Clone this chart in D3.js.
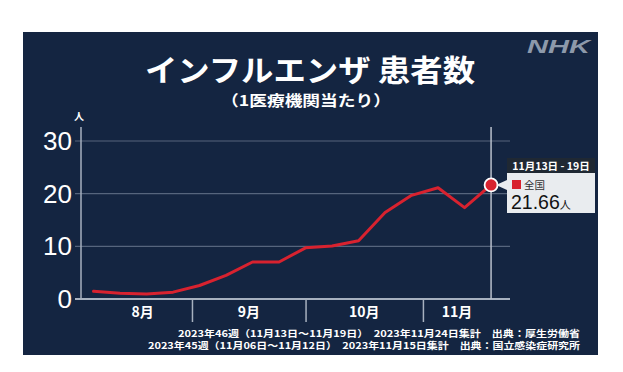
<!DOCTYPE html>
<html>
<head>
<meta charset="utf-8">
<script src="https://cdn.jsdelivr.net/npm/d3@7"></script>
<style>
  body { margin: 0; background: #fff; }
  text { font-family: "Liberation Sans", "Noto Sans CJK JP", sans-serif; }
  .jp { font-family: "Noto Sans CJK JP", "Liberation Sans", sans-serif; }
</style>
</head>
<body>
<div id="chart"></div>
<script>
// weekly values (per medical institution), week ending dates
const weekEnds = ["2023-08-06", "2023-08-13", "2023-08-20", "2023-08-27", "2023-09-03", "2023-09-10",
  "2023-09-17", "2023-09-24", "2023-10-01", "2023-10-08", "2023-10-15", "2023-10-22",
  "2023-10-29", "2023-11-05", "2023-11-12", "2023-11-19"];
const values = [1.45, 1.1, 0.95, 1.3, 2.56, 4.48, 7.03, 7.03, 9.71, 10.06, 11.07, 16.41, 19.68, 21.13, 17.35, 21.66];
const yTicks = [0, 10, 20, 30];
const monthStarts = ["2023-08-01", "2023-09-01", "2023-10-01", "2023-11-01", "2023-12-01"];
const monthLabels = ["8月", "9月", "10月", "11月"];
const footLines = [
  "2023年46週（11月13日～11月19日）　2023年11月24日集計　出典：厚生労働省",
  "2023年45週（11月06日～11月12日）　2023年11月15日集計　出典：国立感染症研究所"
];

const parse = d3.timeParse("%Y-%m-%d");
const data = weekEnds.map((d, i) => ({ date: parse(d), value: values[i] }));
const months = monthStarts.map(parse);

const width = 623, height = 372;
const svg = d3.select("#chart").append("svg")
  .attr("width", width)
  .attr("height", height);

// panel
svg.append("rect")
  .attr("x", 23).attr("y", 32)
  .attr("width", 575).attr("height", 323)
  .attr("fill", "#142541");

const x = d3.scaleTime()
  .domain([parse("2023-08-01"), parse("2023-11-24")])
  .range([74.6, 510]);

const y = d3.scaleLinear()
  .domain([0, 30])
  .range([299, 141]);

// title
svg.append("text")
  .attr("class", "jp")
  .attr("x", 145).attr("y", 81)
  .attr("textLength", 330).attr("lengthAdjust", "spacingAndGlyphs")
  .attr("fill", "#fff")
  .style("font-size", "30px").style("font-weight", "bold")
  .text("インフルエンザ 患者数");

svg.append("text")
  .attr("class", "jp")
  .attr("x", 221).attr("y", 106)
  .attr("textLength", 170).attr("lengthAdjust", "spacingAndGlyphs")
  .attr("fill", "#fff")
  .style("font-size", "15px").style("font-weight", "bold")
  .text("（1医療機関当たり）");

// NHK mark
svg.append("text")
  .attr("x", 527).attr("y", 53)
  .attr("textLength", 63).attr("lengthAdjust", "spacingAndGlyphs")
  .attr("fill", "#8d99aa")
  .style("font-size", "19px").style("font-weight", "bold").style("font-style", "italic")
  .text("NHK");

// gridlines
svg.append("g")
  .selectAll("line")
  .data(yTicks)
  .join("line")
  .attr("x1", 75).attr("x2", 510)
  .attr("y1", d => y(d)).attr("y2", d => y(d))
  .attr("stroke", d => d === 0 ? "#a7b1bf" : "#56657d")
  .attr("stroke-width", d => d === 0 ? 2 : 1.2);

// y tick labels
svg.append("g")
  .selectAll("text")
  .data(yTicks)
  .join("text")
  .attr("x", 72)
  .attr("y", d => y(d) + 9)
  .attr("text-anchor", "end")
  .attr("fill", "#fff")
  .style("font-size", "26px")
  .text(d => d);

svg.append("text")
  .attr("class", "jp")
  .attr("x", 79).attr("y", 120)
  .attr("text-anchor", "middle")
  .attr("fill", "#fff")
  .style("font-size", "10px").style("font-weight", "bold")
  .text("人");

// y axis line
svg.append("line")
  .attr("x1", 81).attr("x2", 81)
  .attr("y1", 127).attr("y2", 299)
  .attr("stroke", "#a7b1bf").attr("stroke-width", 1.5);

// month separators
const xAxis = svg.append("g")
  .attr("transform", "translate(0,299)")
  .call(d3.axisBottom(x).tickValues(months.slice(1, 4)).tickSize(23).tickFormat(""));
xAxis.select(".domain").remove();
xAxis.selectAll("line").attr("stroke", "#a7b1bf").attr("stroke-width", 1.5);

// month labels, centred on the visible part of each month
const first = data[0].date, last = data[data.length - 1].date;
svg.append("g")
  .selectAll("text")
  .data(monthLabels)
  .join("text")
  .attr("class", "jp")
  .attr("x", (d, i) => {
    const a = x(d3.max([months[i], first]));
    const b = x(d3.min([months[i + 1], last]));
    return (a + b) / 2;
  })
  .attr("y", 317)
  .attr("text-anchor", "middle")
  .attr("fill", "#fff")
  .style("font-size", "14px").style("font-weight", "bold")
  .text(d => d);

// current week marker line
svg.append("line")
  .attr("x1", x(last)).attr("x2", x(last))
  .attr("y1", 127).attr("y2", 299)
  .attr("stroke", "#b9c1cc").attr("stroke-width", 1.5);

// series line
const line = d3.line()
  .x(d => x(d.date))
  .y(d => y(d.value));

svg.append("path")
  .datum(data)
  .attr("d", line)
  .attr("fill", "none")
  .attr("stroke", "#d8222f")
  .attr("stroke-width", 3)
  .attr("stroke-linejoin", "round")
  .attr("stroke-linecap", "round");

const lastPt = data[data.length - 1];
svg.append("circle")
  .attr("cx", x(lastPt.date)).attr("cy", y(lastPt.value))
  .attr("r", 6.5)
  .attr("fill", "#d8222f")
  .attr("stroke", "#fff").attr("stroke-width", 1.8);

// callout
const cx = x(lastPt.date), cy = y(lastPt.value);
const tip = svg.append("g");
tip.append("rect")
  .attr("x", 507).attr("y", 158)
  .attr("width", 88).attr("height", 15)
  .attr("fill", "#1f2833");
tip.append("text")
  .attr("class", "jp")
  .attr("x", 551).attr("y", 169.5)
  .attr("text-anchor", "middle")
  .attr("fill", "#fff")
  .style("font-size", "10.5px").style("font-weight", "bold")
  .text("11月13日 - 19日");
tip.append("rect")
  .attr("x", 507).attr("y", 173)
  .attr("width", 88).attr("height", 40)
  .attr("fill", "#e9ecef");
tip.append("path")
  .attr("d", `M${cx + 5},${cy} L${cx + 17},${cy - 5.5} L${cx + 17},${cy + 5.5} Z`)
  .attr("fill", "#e9ecef");
tip.append("rect")
  .attr("x", 512).attr("y", 180)
  .attr("width", 9).attr("height", 9)
  .attr("fill", "#d8222f");
tip.append("text")
  .attr("class", "jp")
  .attr("x", 524).attr("y", 188.5)
  .attr("fill", "#333")
  .style("font-size", "10.5px")
  .text("全国");
const valText = tip.append("text")
  .attr("x", 511).attr("y", 208.5)
  .attr("fill", "#111")
  .style("font-size", "19.5px");
valText.append("tspan").text(lastPt.value.toFixed(2));
valText.append("tspan").attr("class", "jp").style("font-size", "11px").text("人");

// footnotes
svg.append("g")
  .selectAll("text")
  .data(footLines)
  .join("text")
  .attr("class", "jp")
  .attr("x", (d, i) => i === 0 ? 178 : 148)
  .attr("y", (d, i) => 337 + i * 12)
  .attr("textLength", (d, i) => i === 0 ? 402 : 432)
  .attr("lengthAdjust", "spacingAndGlyphs")
  .attr("fill", "#fff")
  .style("font-size", "9.5px").style("font-weight", "bold")
  .text(d => d);
</script>
</body>
</html>
